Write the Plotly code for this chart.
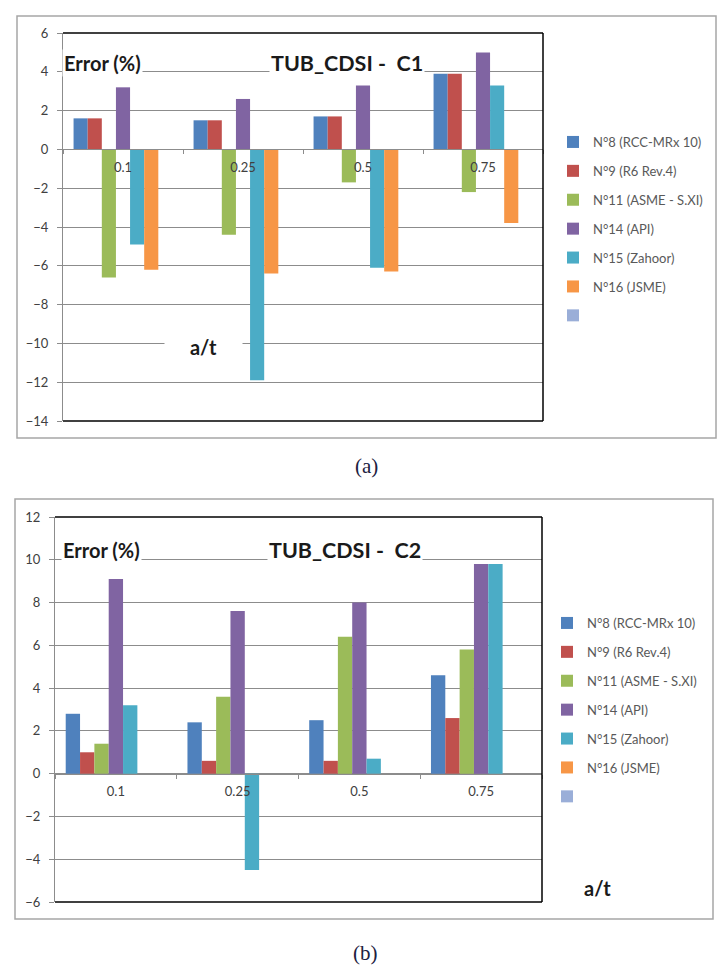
import plotly.graph_objects as go

W, H = 721, 969

categories = ["0.1", "0.25", "0.5", "0.75"]
series_names = ["N°8 (RCC-MRx 10)", "N°9 (R6 Rev.4)", "N°11 (ASME - S.XI)",
                "N°14 (API)", "N°15 (Zahoor)", "N°16 (JSME)", " "]
colors = ["#4F81BD", "#C0504D", "#9BBB59", "#8064A2", "#4BACC6", "#F79646", "#9AAED8"]

# Chart (a) TUB_CDSI - C1
c1_n8 = [1.6, 1.5, 1.7, 3.9]
c1_n9 = [1.6, 1.5, 1.7, 3.9]
c1_n11 = [-6.6, -4.4, -1.7, -2.2]
c1_n14 = [3.2, 2.6, 3.3, 5.0]
c1_n15 = [-4.9, -11.9, -6.1, 3.3]
c1_n16 = [-6.2, -6.4, -6.3, -3.8]
c1_blank = [0, 0, 0, 0]

# Chart (b) TUB_CDSI - C2
c2_n8 = [2.8, 2.4, 2.5, 4.6]
c2_n9 = [1.0, 0.6, 0.6, 2.6]
c2_n11 = [1.4, 3.6, 6.4, 5.8]
c2_n14 = [9.1, 7.6, 8.0, 9.8]
c2_n15 = [3.2, -4.5, 0.7, 9.8]
c2_n16 = [None, None, None, None]
c2_blank = [0, 0, 0, 0]

c1_range = [-14, 6]
c2_range = [-6, 12]

GRID = "#8C8C8C"
TICKC = "#404040"
FONT = "Lato"


def px(x):
    return x / W


def py(y):
    return 1 - y / H


fig = go.Figure()

sets = [
    ([c1_n8, c1_n9, c1_n11, c1_n14, c1_n15, c1_n16, c1_blank], "x", "y", "legend"),
    ([c2_n8, c2_n9, c2_n11, c2_n14, c2_n15, c2_n16, c2_blank], "x2", "y2", "legend2"),
]
for k, (vals, xa, ya, lg) in enumerate(sets):
    for i, v in enumerate(vals):
        fig.add_trace(go.Bar(
            x=categories, y=v,
            name=series_names[i], marker_color=colors[i], marker_line_width=0,
            xaxis=xa, yaxis=ya, legend=lg, legendgroup=f"g{k}_{i}",
            hoverinfo="skip",
        ))

# plot areas (pixels)
pa = dict(x0=63, x1=543, y0=33, y1=421)
pb = dict(x0=55, x1=542, y0=517, y1=902)


def zero_pos(p, rng):
    bot = py(p["y1"])
    top = py(p["y0"])
    return bot + (0 - rng[0]) / (rng[1] - rng[0]) * (top - bot)


def xaxis_cfg(p, rng):
    return dict(
        domain=[px(p["x0"]), px(p["x1"])], anchor="free", position=zero_pos(p, rng),
        type="category", range=[-0.5, 3.5], tickson="boundaries", ticks="outside",
        ticklen=4, tickcolor=GRID, showline=True, linecolor=GRID, linewidth=1,
        showgrid=False, zeroline=False, ticklabelstandoff=6,
        tickfont=dict(family=FONT, size=13, color=TICKC), fixedrange=True,
        automargin=False,
    )


def yaxis_cfg(p, rng, xname):
    return dict(
        domain=[py(p["y1"]), py(p["y0"])], anchor=xname, range=rng, dtick=2,
        showgrid=True, gridcolor=GRID, gridwidth=1, ticks="outside", ticklen=5,
        tickcolor=GRID, showline=True, linecolor=GRID, linewidth=1, zeroline=False,
        tickfont=dict(family=FONT, size=13, color=TICKC), ticklabelstandoff=6,
        fixedrange=True, automargin=False,
    )


legend_common = dict(
    font=dict(family=FONT, size=13, color="#595959"), bgcolor="rgba(0,0,0,0)",
    borderwidth=0, xanchor="left", yanchor="top", tracegroupgap=9,
    itemclick=False, itemdoubleclick=False,
)

fig.update_layout(
    width=W, height=H, margin=dict(l=0, r=0, t=0, b=0, autoexpand=False),
    paper_bgcolor="white", plot_bgcolor="white",
    barmode="group", bargap=0.176, bargroupgap=0,
    showlegend=True,
    xaxis=xaxis_cfg(pa, c1_range),
    yaxis=yaxis_cfg(pa, c1_range, "x"),
    xaxis2=xaxis_cfg(pb, c2_range),
    yaxis2=yaxis_cfg(pb, c2_range, "x2"),
    legend=dict(x=px(553), y=py(127), **legend_common),
    legend2=dict(x=px(547), y=py(608), **legend_common),
)

shapes = []
# outer borders
shapes.append(dict(type="rect", xref="paper", yref="paper", x0=px(17), x1=px(716),
                   y0=py(438), y1=py(16), line=dict(color="#A6A6A6", width=1.5)))
shapes.append(dict(type="rect", xref="paper", yref="paper", x0=px(15), x1=px(713),
                   y0=py(919), y1=py(499), line=dict(color="#A6A6A6", width=1.5)))
# black frame lines (top, right, bottom) of plot areas
for xr, yr in [("x domain", "y domain"), ("x2 domain", "y2 domain")]:
    for (x0, y0, x1, y1) in [(0, 1, 1, 1), (1, 0, 1, 1), (0, 0, 1, 0)]:
        shapes.append(dict(type="line", xref=xr, yref=yr, x0=x0, y0=y0, x1=x1, y1=y1,
                           line=dict(color="black", width=1.5)))
fig.update_layout(shapes=shapes)

bold = dict(family=FONT, size=20, color="#1a1a1a")
title_font = dict(family=FONT, size=21.5, color="#1a1a1a")
caption_font = dict(family="Liberation Serif", size=21, color="#202040")
annotations = [
    dict(text="<b>Error (%)</b>", x=px(62), y=py(63), xanchor="left", yanchor="middle",
         font=bold, bgcolor="white"),
    dict(text="<b>TUB_CDSI -  C1</b>", x=px(347), y=py(63), xanchor="center",
         yanchor="middle", font=title_font, bgcolor="white"),
    dict(text="<b>a/t</b>", x=px(203), y=py(347), xanchor="center", yanchor="middle",
         font=bold, bgcolor="white", width=75),
    dict(text="(a)", x=px(366), y=py(466), xanchor="center", yanchor="middle",
         font=caption_font),
    dict(text="<b>Error (%)</b>", x=px(61), y=py(550), xanchor="left", yanchor="middle",
         font=bold, bgcolor="white"),
    dict(text="<b>TUB_CDSI -  C2</b>", x=px(345), y=py(550), xanchor="center",
         yanchor="middle", font=title_font, bgcolor="white"),
    dict(text="<b>a/t</b>", x=px(597), y=py(888), xanchor="center", yanchor="middle",
         font=bold),
    dict(text="(b)", x=px(365), y=py(953), xanchor="center", yanchor="middle",
         font=caption_font),
]
for a in annotations:
    a.setdefault("xref", "paper")
    a.setdefault("yref", "paper")
    a["showarrow"] = False
fig.update_layout(annotations=annotations)

fig.write_html("out.html")
